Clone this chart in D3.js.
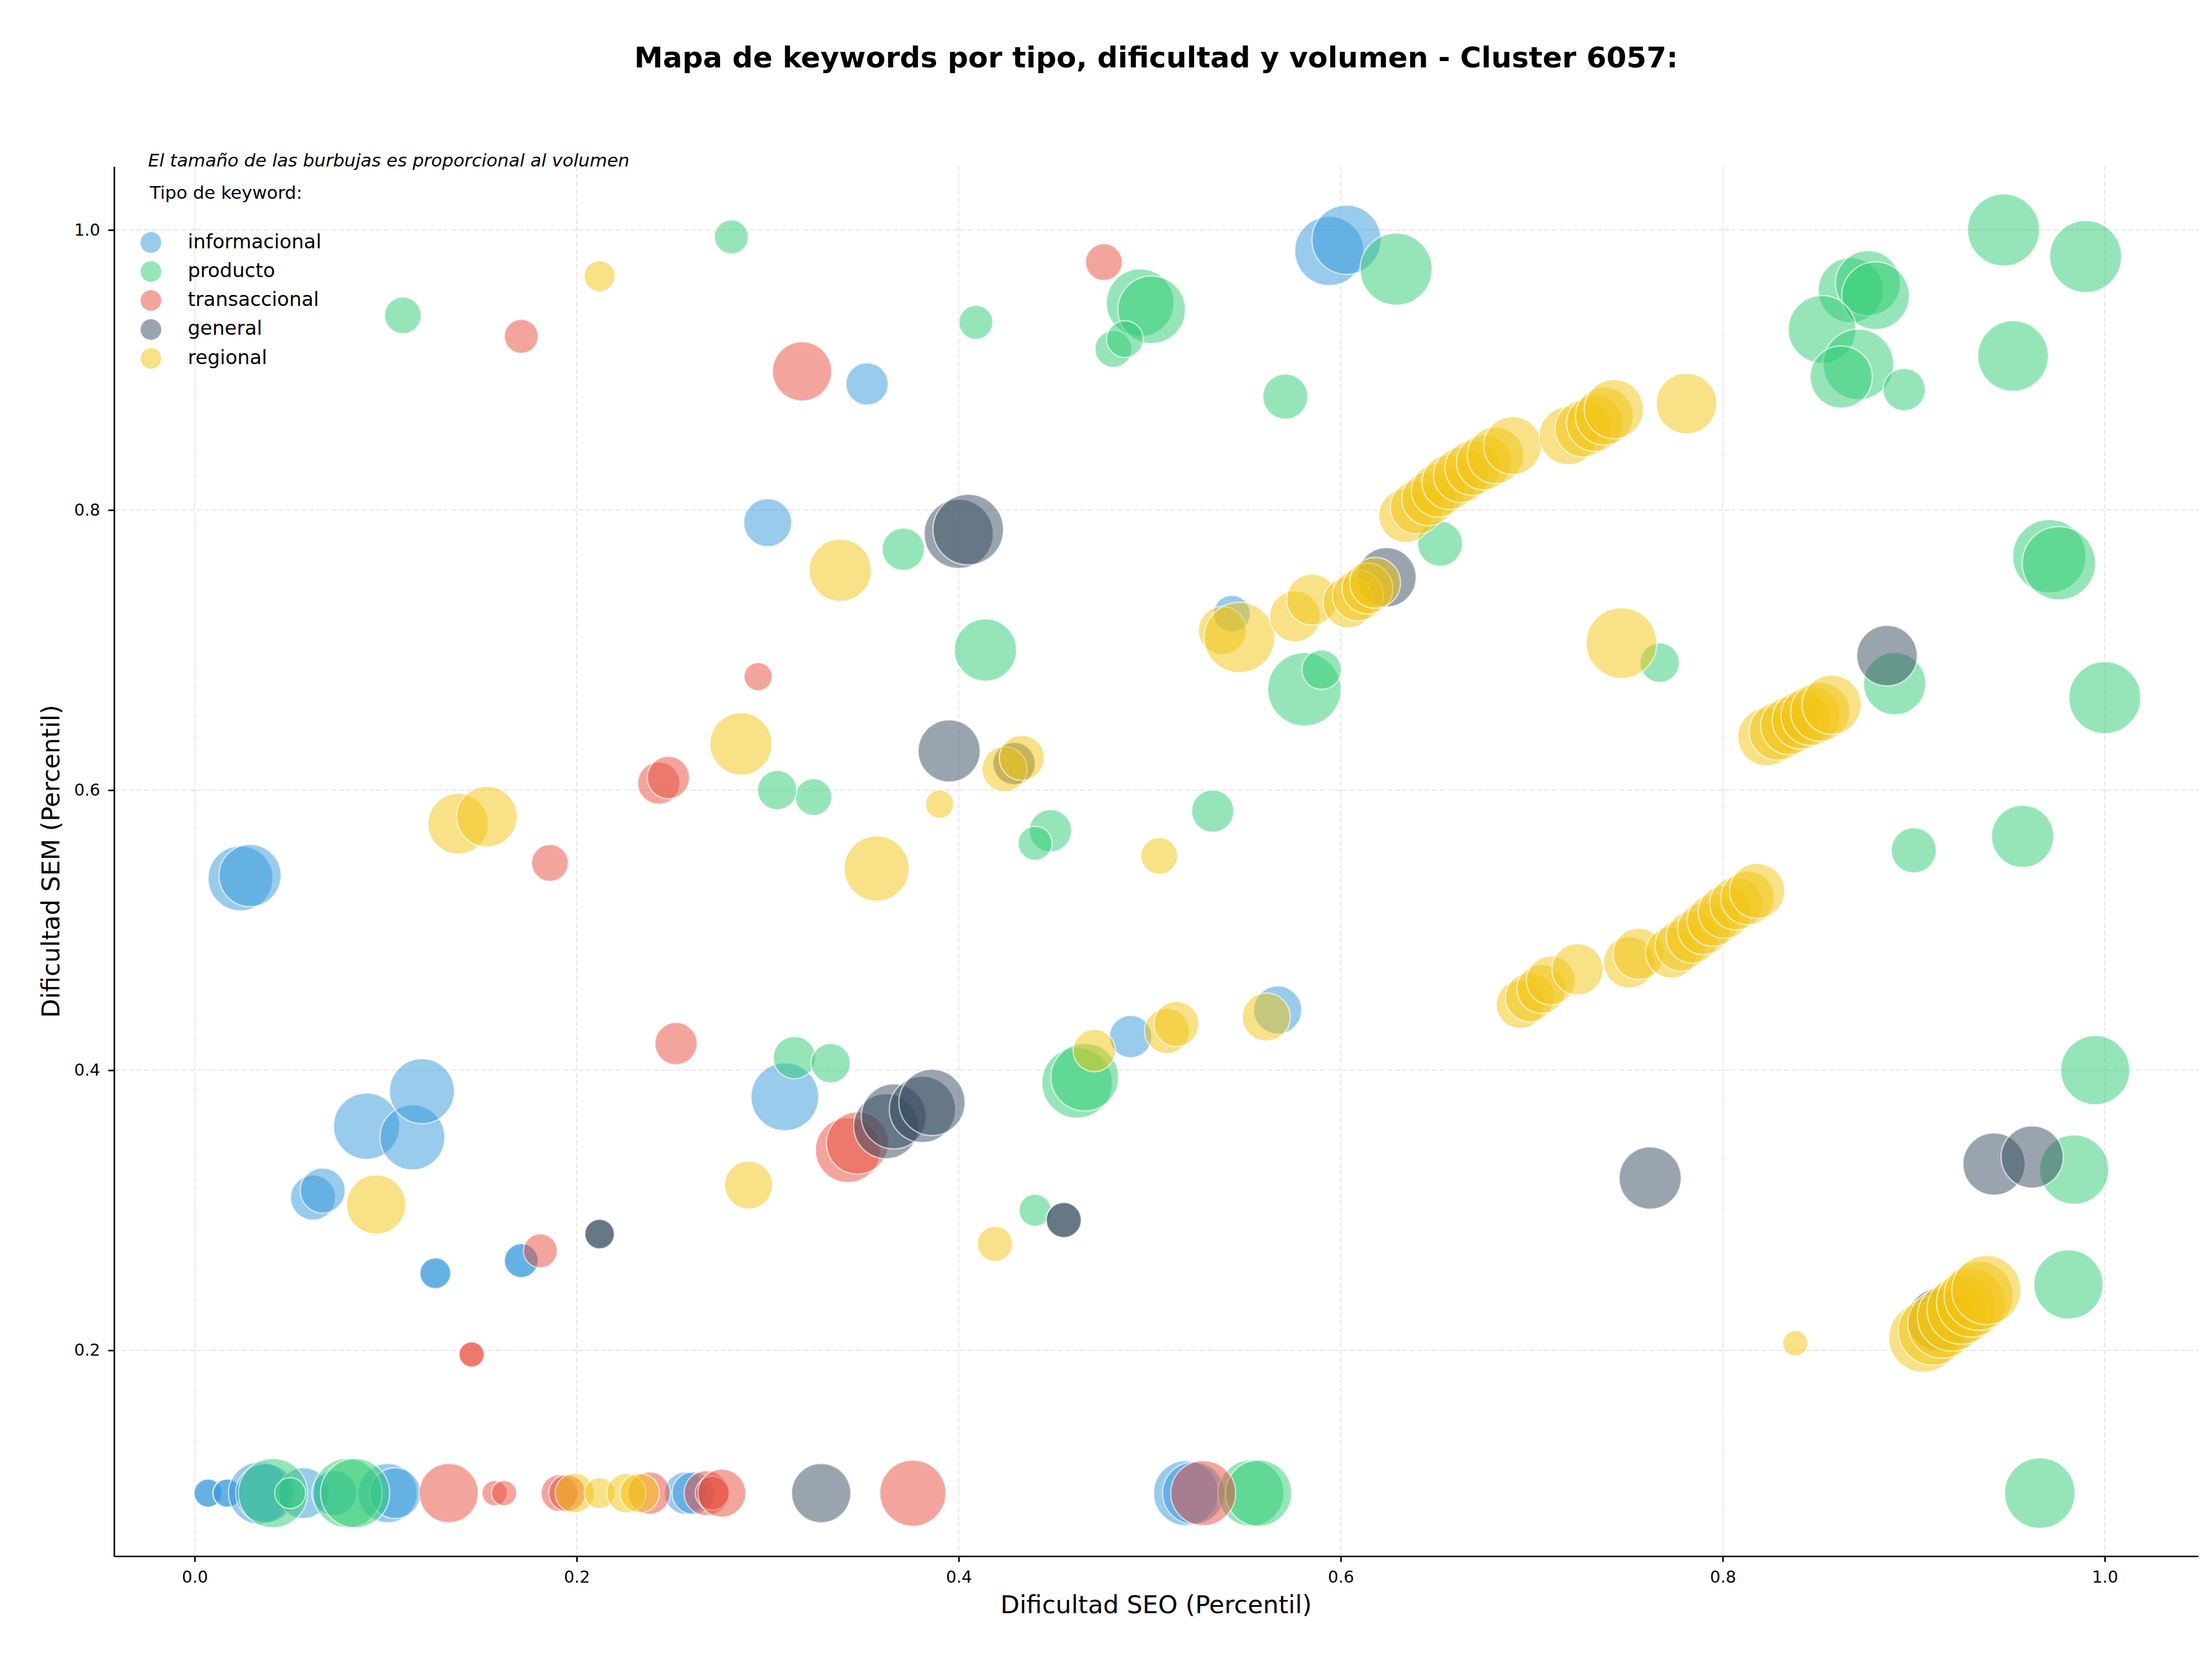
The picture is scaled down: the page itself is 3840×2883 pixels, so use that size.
<!DOCTYPE html>
<html>
<head>
<meta charset="utf-8">
<script src="https://cdn.jsdelivr.net/npm/d3@7"></script>
<style>
  body { margin: 0; background: #fff; }
  svg { font-family: "DejaVu Sans", sans-serif; }
</style>
</head>
<body>
<svg id="chart"></svg>
<script>
// [dificultad SEO, dificultad SEM, volumen]
const informacional = [
  [0.594,0.985,6000],[0.603,0.993,6000],[0.352,0.890,2250],[0.300,0.791,2900],
  [0.024,0.537,5300],[0.029,0.539,4850],[0.309,0.381,5750],[0.090,0.360,5500],
  [0.114,0.352,5300],[0.119,0.385,5300],[0.062,0.309,2550],[0.067,0.314,2550],
  [0.126,0.255,1200],[0.126,0.255,1200],[0.171,0.264,1450],[0.171,0.264,1450],
  [0.543,0.726,1700],[0.490,0.424,2250],[0.567,0.443,2900],
  [0.007,0.098,1000],[0.007,0.098,1000],[0.017,0.098,1000],[0.017,0.098,1000],
  [0.034,0.098,4850],[0.037,0.098,4400],
  [0.057,0.098,3250],[0.073,0.098,2550],[0.101,0.098,4400],[0.105,0.098,3250],
  [0.257,0.098,2250],[0.261,0.098,2250],[0.519,0.098,5300],[0.523,0.098,4850]
];
const producto = [
  [0.281,0.995,1450],[0.109,0.939,1700],[0.409,0.934,1450],[0.495,0.948,5750],
  [0.501,0.943,5750],[0.481,0.915,1700],[0.487,0.922,1700],[0.629,0.972,6500],
  [0.571,0.881,2550],[0.947,1.000,6500],[0.990,0.981,6500],[0.867,0.957,5300],
  [0.876,0.962,5300],[0.880,0.953,5750],[0.852,0.929,5750],[0.871,0.904,6250],
  [0.862,0.895,4850],[0.895,0.886,2250],[0.952,0.910,6250],[0.971,0.767,6750],
  [0.976,0.762,6750],[1.000,0.666,6500],[0.890,0.676,4850],[0.767,0.691,1950],
  [0.900,0.557,2550],[0.957,0.567,4850],[0.652,0.776,2550],[0.581,0.672,6750],
  [0.590,0.686,1950],[0.371,0.772,2250],[0.414,0.700,4850],[0.324,0.595,1700],
  [0.305,0.600,1950],[0.448,0.571,2250],[0.440,0.562,1450],[0.533,0.585,2250],
  [0.314,0.409,2250],[0.333,0.405,1950],[0.462,0.391,6250],[0.466,0.395,5750],
  [0.440,0.300,1300],[0.995,0.400,6000],[0.981,0.247,6000],[0.984,0.329,6000],
  [0.966,0.098,6250],
  [0.041,0.098,6000],[0.050,0.098,1200],[0.080,0.098,6000],[0.084,0.098,6000],
  [0.553,0.098,5500],[0.557,0.098,5500]
];
const transaccional = [
  [0.476,0.977,1700],[0.171,0.924,1450],[0.318,0.899,4400],[0.295,0.681,1000],
  [0.243,0.605,2250],[0.248,0.609,2250],[0.186,0.548,1700],[0.252,0.419,2250],
  [0.342,0.343,5300],[0.347,0.348,4850],[0.181,0.271,1450],
  [0.145,0.197,800],[0.145,0.197,800],
  [0.133,0.098,4400],[0.157,0.098,800],[0.162,0.098,800],[0.191,0.098,1700],
  [0.195,0.098,1700],[0.238,0.098,2250],[0.268,0.098,2550],[0.271,0.098,1450],
  [0.276,0.098,2900],[0.376,0.098,5500],[0.528,0.098,5300]
];
const general = [
  [0.400,0.783,6000],[0.405,0.786,6250],[0.624,0.752,4400],[0.395,0.628,4850],
  [0.429,0.619,2250],[0.362,0.360,5300],[0.366,0.367,5300],[0.381,0.372,5500],
  [0.386,0.377,5500],[0.455,0.293,1550],[0.455,0.293,1550],
  [0.212,0.283,1100],[0.212,0.283,1100],[0.886,0.696,4600],
  [0.762,0.323,4850],[0.942,0.333,4850],[0.962,0.338,4850],[0.913,0.222,4850],
  [0.328,0.098,4400]
];
const regional = [
  [0.212,0.967,1200],[0.338,0.757,4850],[0.286,0.633,4850],[0.138,0.576,4600],
  [0.153,0.581,4600],[0.390,0.590,1000],[0.424,0.615,2550],[0.433,0.623,2550],
  [0.357,0.544,5300],[0.505,0.553,1700],[0.095,0.304,4400],[0.290,0.318,2900],
  [0.419,0.276,1550],[0.471,0.414,2250],[0.509,0.428,2550],[0.514,0.433,2550],
  [0.561,0.438,2900],[0.538,0.714,2900],[0.547,0.709,6250],[0.576,0.724,3250],
  [0.585,0.736,3250],[0.604,0.734,3250],[0.609,0.739,3250],[0.614,0.744,3250],
  [0.618,0.748,3250],[0.747,0.705,6250],[0.838,0.205,800],
  [0.634,0.796,3600],[0.640,0.802,3600],[0.646,0.808,3600],[0.651,0.814,3600],
  [0.657,0.820,3800],[0.663,0.825,3800],[0.669,0.830,3800],[0.675,0.834,3800],
  [0.681,0.839,4000],[0.690,0.846,4200],[0.719,0.853,4200],[0.727,0.858,4000],
  [0.733,0.862,4000],[0.738,0.867,4200],[0.743,0.872,4400],[0.781,0.876,4600],
  [0.823,0.638,4200],[0.829,0.642,4200],[0.835,0.646,4200],[0.841,0.650,4200],
  [0.846,0.653,4400],[0.851,0.656,4400],[0.857,0.661,4400],
  [0.694,0.447,2900],[0.699,0.452,3000],[0.705,0.458,3000],[0.710,0.464,3000],
  [0.724,0.472,3300],[0.751,0.477,3300],[0.756,0.483,3300],[0.773,0.484,3300],
  [0.778,0.489,3300],[0.784,0.495,3400],[0.790,0.501,3400],[0.795,0.507,3400],
  [0.801,0.513,3500],[0.807,0.519,3500],[0.813,0.523,3600],[0.818,0.528,3800],
  [0.905,0.209,6000],[0.910,0.214,6000],[0.915,0.219,6000],[0.920,0.224,6000],
  [0.925,0.229,6000],[0.930,0.234,6000],[0.934,0.239,6000],[0.938,0.243,6000],
  [0.199,0.098,1950],[0.212,0.098,1200],[0.226,0.098,1950],[0.233,0.098,1950]
];

const tipos = ["informacional", "producto", "transaccional", "general", "regional"];
const colores = ["#3498db", "#2ecc71", "#e74c3c", "#34495e", "#f1c40f"];
const series = [informacional, producto, transaccional, general, regional];
const xTicks = [0.0, 0.2, 0.4, 0.6, 0.8, 1.0];
const yTicks = [0.2, 0.4, 0.6, 0.8, 1.0];

const W = 3840, H = 2883;
const margin = {top: 289, right: 24, bottom: 182, left: 198};
const width = W - margin.left - margin.right;
const height = H - margin.top - margin.bottom;

const svg = d3.select("#chart")
    .attr("width", W)
    .attr("height", H);

const g = svg.append("g")
    .attr("transform", `translate(${margin.left},${margin.top})`);

const x = d3.scaleLinear().domain([-0.0422, 1.0489]).range([0, width]);
const y = d3.scaleLinear().domain([0.053, 1.0453]).range([height, 0]);
const r = d3.scaleSqrt().domain([0, 10000]).range([0, 77.4]);
const color = d3.scaleOrdinal().domain(tipos).range(colores);

// grid
g.append("g").selectAll("line")
    .data(xTicks).join("line")
    .attr("x1", d => x(d)).attr("x2", d => x(d))
    .attr("y1", 0).attr("y2", height)
    .attr("stroke", "#b0b0b0").attr("stroke-opacity", 0.3)
    .attr("stroke-width", 2).attr("stroke-dasharray", "9,4");
g.append("g").selectAll("line")
    .data(yTicks).join("line")
    .attr("x1", 0).attr("x2", width)
    .attr("y1", d => y(d)).attr("y2", d => y(d))
    .attr("stroke", "#b0b0b0").attr("stroke-opacity", 0.3)
    .attr("stroke-width", 2).attr("stroke-dasharray", "9,4");

// bubbles, one layer per type
series.forEach((pts, i) => {
    g.append("g").selectAll("circle")
        .data(pts).join("circle")
        .attr("cx", d => x(d[0]))
        .attr("cy", d => y(d[1]))
        .attr("r", d => r(d[2]))
        .attr("fill", color(tipos[i]))
        .attr("fill-opacity", 0.5)
        .attr("stroke", "#fff")
        .attr("stroke-opacity", 0.6)
        .attr("stroke-width", 2.4);
});

// axes
const xAxis = g.append("g")
    .attr("transform", `translate(0,${height})`)
    .call(d3.axisBottom(x).tickValues(xTicks).tickFormat(d3.format(".1f"))
        .tickSize(10).tickSizeOuter(0).tickPadding(16));
const yAxis = g.append("g")
    .call(d3.axisLeft(y).tickValues(yTicks).tickFormat(d3.format(".1f"))
        .tickSize(10).tickSizeOuter(0).tickPadding(14));
[xAxis, yAxis].forEach(a => {
    a.selectAll("path").attr("stroke-width", 2.7);
    a.selectAll("line").attr("stroke-width", 2.7);
    a.selectAll("text").attr("font-size", 28.5).attr("font-family", "DejaVu Sans");
});

// labels
svg.append("text")
    .attr("x", margin.left + width / 2).attr("y", 103)
    .attr("text-anchor", "middle").attr("dominant-baseline", "middle")
    .attr("font-size", 50).attr("font-weight", "bold")
    .text("Mapa de keywords por tipo, dificultad y volumen - Cluster 6057:");

svg.append("text")
    .attr("x", margin.left + width / 2).attr("y", 2788)
    .attr("text-anchor", "middle").attr("dominant-baseline", "middle")
    .attr("font-size", 43)
    .text("Dificultad SEO (Percentil)");

svg.append("text")
    .attr("transform", `translate(91,${margin.top + height / 2}) rotate(-90)`)
    .attr("text-anchor", "middle").attr("dominant-baseline", "middle")
    .attr("font-size", 43)
    .text("Dificultad SEM (Percentil)");

// legend
svg.append("text")
    .attr("x", 257).attr("y", 280)
    .attr("dominant-baseline", "middle")
    .attr("font-size", 31).attr("font-style", "italic")
    .text("El tamaño de las burbujas es proporcional al volumen");

const legend = svg.append("g");
legend.append("text")
    .attr("x", 260).attr("y", 336)
    .attr("dominant-baseline", "middle")
    .attr("font-size", 31)
    .text("Tipo de keyword:");

const items = legend.selectAll("g.item")
    .data(tipos).join("g")
    .attr("class", "item")
    .attr("transform", (d, i) => `translate(262,${421 + i * 50.3})`);
items.append("circle")
    .attr("r", 18)
    .attr("fill", d => color(d))
    .attr("fill-opacity", 0.5);
items.append("text")
    .attr("x", 64)
    .attr("dominant-baseline", "middle")
    .attr("font-size", 34)
    .text(d => d);
</script>
</body>
</html>
